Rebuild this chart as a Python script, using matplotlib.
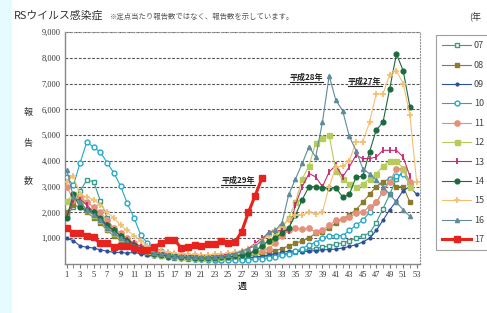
import matplotlib
matplotlib.use("Agg")
import matplotlib.pyplot as plt
from matplotlib.lines import Line2D
from matplotlib.patches import Rectangle
import numpy as np

plt.rcParams['font.family'] = ['Noto Sans CJK JP', 'DejaVu Sans']

weeks = np.arange(1, 54)

# weekly report counts (None = no data)
y07 = [1900, 2200, 2850, 3250, 3200, 2450, 1800, 1300, 1000, 800, 600, 500, 400, 350, 300,
       280, 250, 220, 200, 200, 180, 180, 170, 170, 180, 190, 200, 220, 250, 280,
       300, 330, 380, 420, 460, 520, 560, 600, 650, 700, 760, 820, 900, 1000, 1100,
       1200, 1600, 2150, 2700, 3300, 3600, 3200, None]
y08 = [2000, 2300, 2200, 2000, 1800, 1600, 1300, 1100, 900, 700, 550, 450, 400, 350, 330,
       300, 280, 260, 240, 230, 220, 220, 230, 240, 250, 270, 290, 320, 360, 400,
       450, 520, 600, 700, 800, 900, 1000, 1200, 1250, 1400, 1600, 1750, 1900, 2100, 2400,
       2700, 3000, 3200, 3300, 3000, 3000, 2400, None]
y09 = [1000, 900, 700, 650, 620, 550, 500, 450, 450, 420, 450, 400, 350, 300, 300,
       250, 230, 200, 180, 170, 160, 160, 170, 180, 190, 200, 220, 240, 270, 300,
       350, 400, 450, 500, 500, 480, 500, 520, 550, 560, 580, 620, 680, 750, 850,
       1000, 1300, 1700, 2100, 2450, 2850, 3000, 2700]
y10 = [3360, 3060, 3930, 4740, 4520, 4350, 3930, 3540, 3030, 2350, 1800, 1130, 800, 600, 500,
       400, 350, 300, 250, 200, 180, 150, 150, 150, 150, 150, 160, 170, 180, 200,
       230, 270, 330, 400, 500, 600, 750, 830, 1000, 1100, 1100, 1100, 1300, 1500, 1700,
       2000, 2400, 2800, 3300, 3400, 3500, 3100, None]
y11 = [3000, 2500, 2600, 2400, 2200, 2000, 1700, 1400, 1200, 1000, 800, 650, 550, 480, 420,
       380, 350, 330, 300, 300, 290, 290, 300, 310, 330, 350, 380, 420, 460, 500,
       600, 800, 1100, 1300, 1380, 1340, 1380, 1240, 1320, 1500, 1700, 1750, 1830, 1960, 2030,
       2220, 2400, 2800, 3200, 3700, 3700, 3190, None]
y12 = [2450, 2700, 2400, 2100, 1900, 1700, 1400, 1200, 1000, 850, 700, 600, 500, 400, 350,
       330, 300, 280, 260, 250, 250, 250, 260, 280, 300, 330, 370, 420, 500, 700,
       900, 1100, 1400, 1800, 2400, 3300, 3800, 4700, 4900, 5000, 3600, 3300, 3100, 3000, 3100,
       3300, 3500, 3800, 4000, 4000, 3700, 3000, None]
y13 = [1800, 2500, 2500, 2300, 2000, 1700, 1500, 1300, 1100, 950, 800, 700, 600, 500, 450,
       420, 400, 380, 350, 340, 330, 330, 340, 360, 380, 420, 480, 600, 800, 1000,
       1190, 1290, 1290, 1290, 2300, 3000, 3510, 3380, 3000, 3570, 3830, 3380, 3770, 4220, 4090,
       4090, 4150, 4410, 4410, 4410, 4150, 3400, None]
y14 = [1800, 2700, 2200, 2100, 2000, 1800, 1500, 1300, 1100, 900, 750, 600, 500, 400, 350,
       320, 300, 280, 260, 250, 240, 240, 250, 260, 280, 300, 350, 400, 500, 700,
       900, 1000, 1200, 1400, 1900, 2500, 3000, 3000, 2950, 2950, 2950, 2600, 2700, 3380, 3400,
       4350, 5200, 5500, 6800, 8150, 7500, 6100, None]
y15 = [3200, 3400, 2700, 2600, 2500, 2300, 2000, 1800, 1500, 1300, 1100, 900, 700, 600, 500,
       450, 420, 400, 380, 370, 360, 360, 370, 390, 420, 460, 520, 600, 700, 900,
       1100, 1300, 1500, 1700, 1900, 1900, 2000, 1950, 2000, 3000, 3770, 3800, 4000, 4740, 4740,
       5500, 6600, 6600, 7350, 7500, 7000, 5770, 3190]
y16 = [3650, 2600, 2400, 2100, 1900, 1700, 1400, 1200, 1000, 850, 700, 600, 500, 420, 380,
       350, 320, 300, 280, 270, 260, 260, 280, 300, 350, 400, 500, 600, 700, 900,
       1250, 1300, 1600, 2700, 3300, 3900, 4550, 4150, 5500, 7300, 6350, 5950, 4950, 4400, 3700,
       3500, 3250, 3000, 2700, 2400, 2100, 1850, None]
y17 = [1400, 1200, 1220, 1090, 1030, 800, 820, 670, 680, 700, 640, 540, 540, 670, 800,
       930, 950, 620, 670, 740, 700, 760, 780, 890, 830, 850, 1250, 2000, 2650, 3320]

labels = ['07', '08', '09', '10', '11', '12', '13', '14', '15', '16', '17']
series = [y07, y08, y09, y10, y11, y12, y13, y14, y15, y16, y17]
colors = ['#3a9c8c', '#8c7b2e', '#2c4f9c', '#21a8c8', '#e4907a', '#b5cc5a',
          '#c8296e', '#1b6b3e', '#f5bf72', '#5f8b9b', '#e8221c']
markers = ['s', 's', 'o', 'o', 'o', 's', '|', 'o', '+', '^', 's']
msizes = [3, 3.2, 2, 3.5, 3.8, 3.6, 5, 3.4, 4.5, 3, 5]
hollow = [True, False, False, True, False, False, False, False, False, False, False]

fig = plt.figure(figsize=(4.87, 3.13), dpi=100)
fig.add_artist(Rectangle((0, 0), 0.022, 1, transform=fig.transFigure,
                         color='#e6fbff', zorder=0))
ax = fig.add_axes([65 / 487, 1 - 264 / 313, 355 / 487, 232 / 313])

for ys, lab, c, m, ms, h in zip(series, labels, colors, markers, msizes, hollow):
    vals = np.array([np.nan if v is None else v for v in ys], dtype=float)
    lw = 2.2 if lab == '17' else 0.8
    ax.plot(weeks[:len(vals)], vals, color=c, lw=lw, marker=m, ms=ms,
            mfc='white' if h else c, mec=c, mew=1.0 if m not in '|+' else 1.3,
            label=lab, zorder=5 if lab == '17' else 3)

ax.set_xlim(0.75, 53.5)
ax.set_ylim(0, 9000)
ax.set_yticks(range(1000, 10000, 1000))
ax.set_yticklabels([f'{v:,}' for v in range(1000, 10000, 1000)],
                   family='Liberation Serif', fontsize=6, color='#333')
ax.set_xticks(range(1, 54, 2))
ax.set_xticks(range(2, 54, 2), minor=True)
ax.set_xticklabels([str(w) for w in range(1, 54, 2)],
                   family='Liberation Serif', fontsize=6, color='#333')
ax.tick_params(axis='y', length=0, pad=3)
ax.tick_params(axis='x', which='both', length=3, color='#777', direction='out', pad=2)
ax.grid(axis='y', color='#555', linestyle=(0, (2.5, 1.5)), lw=0.8, zorder=1)

for s in ['left', 'bottom']:
    ax.spines[s].set_color('#888')
    ax.spines[s].set_linewidth(1)
for s in ['top', 'right']:
    ax.spines[s].set_color('#999')
    ax.spines[s].set_linestyle(':')
    ax.spines[s].set_linewidth(0.8)

ax.set_xlabel('週', fontsize=6.5, labelpad=2)

# y label characters stacked
for ch, yp in zip(['報', '告', '数'], [113, 143, 181]):
    fig.text(28 / 487, 1 - yp / 313, ch, fontsize=6.5, ha='center', va='center', color='#333')

fig.text(14 / 487, 1 - 16 / 313, 'RSウイルス感染症', fontsize=7.8, ha='left', va='center',
         color='#333')
fig.text(110 / 487, 1 - 17 / 313, '※定点当たり報告数ではなく、報告数を示しています。',
         fontsize=5.3, ha='left', va='center', color='#555')
fig.text(469 / 487, 1 - 17 / 313, '(年', fontsize=6.5, ha='left', va='center', color='#333')

notes = []
for txt, wx, wy in [('平成29年', 26.45, 3250), ('平成28年', 36.6, 7250), ('平成27年', 45.3, 7090)]:
    t = ax.text(wx, wy, txt, fontsize=5.8, fontweight='bold', ha='center', va='center',
                color='#222', zorder=6)
    notes.append(t)

leg = ax.legend(loc='upper left', bbox_to_anchor=(436 / 487, 1 - 35 / 313),
                bbox_transform=fig.transFigure, fontsize=6.5, frameon=True,
                fancybox=False, edgecolor='#888', handlelength=3.2,
                labelspacing=1.15, borderpad=0.7, handletextpad=0.3,
                borderaxespad=0)
leg.get_frame().set_linewidth(0.8)
for t in leg.get_texts():
    t.set_color('#444')

# underline the annotations
fig.canvas.draw()
W, H = fig.canvas.get_width_height()
for t in notes:
    bb = t.get_window_extent()
    fig.add_artist(Line2D([bb.x0 / W, bb.x1 / W], [(bb.y0 - 0.5) / H] * 2,
                          transform=fig.transFigure, color='#222', lw=0.8))

fig.savefig('out.png', dpi=100)
